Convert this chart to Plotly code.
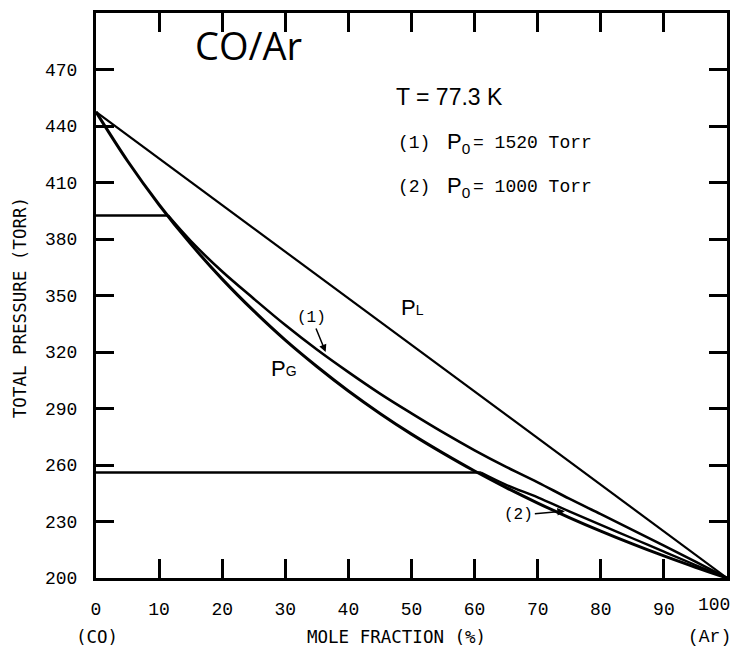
import plotly.graph_objects as go

# ---- data ----
ar_pct_gas = [0, 5, 10, 15, 20, 25, 30, 35, 40, 45, 50, 55, 60, 65, 70, 75, 80, 85, 90, 95, 100]
p_gas = [447.5, 421.4, 398.2, 377.4, 358.7, 341.8, 326.3, 312.3, 299.3, 287.4, 276.4,
         266.3, 256.8, 248.0, 239.8, 232.1, 224.9, 218.1, 211.7, 205.7, 200.0]

ar_pct_liq = [0, 100]
p_liq = [447.5, 200.0]

ar_pct_c1 = [11.4, 15, 20, 25, 30, 35, 40, 45, 50, 55, 60, 65, 70, 75, 80, 85, 90, 95, 100]
p_c1 = [392.5, 379.0, 362.7, 348.3, 334.3, 321.3, 309.3, 297.9, 287.4, 277.3, 267.8,
        259.0, 250.8, 242.1, 233.9, 225.6, 217.2, 208.7, 200.0]

ar_pct_c2 = [61.0, 65, 70, 75, 80, 85, 90, 95, 100]
p_c2 = [256.0, 249.5, 242.8, 235.4, 228.2, 221.1, 214.0, 206.9, 200.0]

ar_pct_h1 = [0, 11.4]
p_h1 = [392.5, 392.5]
ar_pct_h2 = [0, 61.0]
p_h2 = [256.0, 256.0]

x_ticks = [0, 10, 20, 30, 40, 50, 60, 70, 80, 90]
y_ticks = [200, 230, 260, 290, 320, 350, 380, 410, 440, 470]

MONO = "Liberation Mono, Courier New, monospace"
PLOT = "DejaVu Sans Mono, monospace"
SANS = "Liberation Sans, Arial, sans-serif"

fig = go.Figure()
def add_line(x, y, w, shape="spline"):
    fig.add_trace(go.Scatter(x=x, y=y, mode="lines", line=dict(color="black", width=w, shape=shape),
                             showlegend=False, hoverinfo="skip"))

add_line(ar_pct_liq, p_liq, 2.2, "linear")
add_line(ar_pct_gas, p_gas, 3.0)
add_line(ar_pct_c1, p_c1, 2.6)
add_line(ar_pct_c2, p_c2, 2.4)
add_line(ar_pct_h1, p_h1, 2.4, "linear")
add_line(ar_pct_h2, p_h2, 2.4, "linear")

axis_common = dict(showgrid=False, zeroline=False, showline=True, linecolor="black", linewidth=3,
                   ticks="inside", tickcolor="black", tickwidth=2.5, mirror="ticks",
                   tickfont=dict(family=MONO, size=18, color="black"))
fig.update_xaxes(range=[0, 100], tickvals=x_ticks, ticklen=19, ticklabelstandoff=12, **axis_common)
fig.update_yaxes(range=[200, 500], tickvals=y_ticks, ticklen=18, ticklabelstandoff=12, **axis_common)

ann = []
def txt(text, x, y, size, family, xanchor="center", xref="paper", yref="paper", **kw):
    ann.append(dict(text=text, x=x, y=y, xref=xref, yref=yref, showarrow=False, xanchor=xanchor,
                    yanchor="middle", font=dict(family=family, size=size, color="black"), **kw))

txt("100", 0.9795, -0.047, 18, MONO)
txt("MOLE FRACTION (%)", 0.476, -0.104, 17.5, PLOT)
txt("(CO)", 0.002, -0.104, 17.5, PLOT)
txt("(Ar)", 0.972, -0.104, 18, MONO)
txt("TOTAL PRESSURE (TORR)", -0.12, 0.478, 17.5, PLOT, textangle=-90)
txt("CO/Ar", 0.241, 0.943, 38, "Open Sans, sans-serif")
txt("T = 77.3 K", 0.472, 0.851, 23, SANS, xanchor="left")
txt("(1)", 0.475, 0.770, 18, MONO, xanchor="left")
txt("P<sub>0</sub>", 0.553, 0.770, 22, SANS, xanchor="left")
txt("= 1520 Torr", 0.594, 0.770, 18, MONO, xanchor="left")
txt("(2)", 0.475, 0.692, 18, MONO, xanchor="left")
txt("P<sub>0</sub>", 0.553, 0.692, 22, SANS, xanchor="left")
txt("= 1000 Torr", 0.594, 0.692, 18, MONO, xanchor="left")
txt("P<span style='font-size:14px'>L</span>", 50.2, 343.4, 22, SANS, xref="x", yref="y")
txt("P<span style='font-size:14px'>G</span>", 29.8, 311.5, 22, SANS, xref="x", yref="y")

ann.append(dict(text="(1)", x=36.4, y=320.0, xref="x", yref="y", ax=-14, ay=-34,
                showarrow=True, arrowhead=2, arrowsize=1, arrowwidth=1.5, arrowcolor="black",
                font=dict(family=MONO, size=16, color="black")))
ann.append(dict(text="(2)", x=74.3, y=235.5, xref="x", yref="y", ax=-46, ay=4,
                showarrow=True, arrowhead=2, arrowsize=1, arrowwidth=1.5, arrowcolor="black",
                font=dict(family=MONO, size=16, color="black")))

fig.update_layout(width=735, height=653, margin=dict(l=96, r=5, t=13, b=75),
                  plot_bgcolor="white", paper_bgcolor="white", annotations=ann)

fig.write_html("out.html")
